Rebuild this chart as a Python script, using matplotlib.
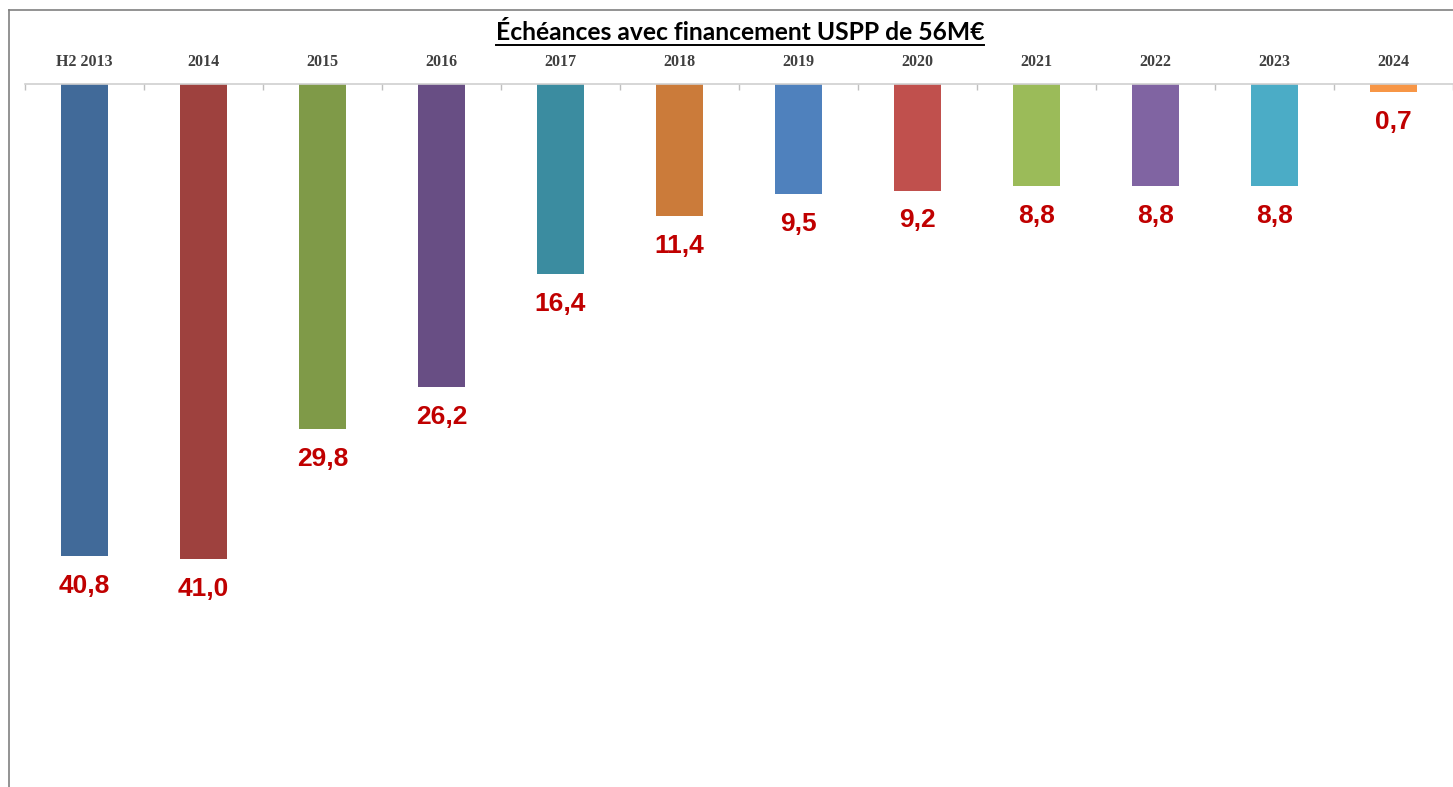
#Échéances avec financement USPP - bar chart hanging from top axis
import matplotlib
matplotlib.use('Agg')
import matplotlib.pyplot as plt
from matplotlib.lines import Line2D

years = ['H2 2013', '2014', '2015', '2016', '2017', '2018',
         '2019', '2020', '2021', '2022', '2023', '2024']
values = [40.8, 41.0, 29.8, 26.2, 16.4, 11.4, 9.5, 9.2, 8.8, 8.8, 8.8, 0.7]
labels = ['40,8', '41,0', '29,8', '26,2', '16,4', '11,4',
          '9,5', '9,2', '8,8', '8,8', '8,8', '0,7']
colors = ['#416A99', '#9E413E', '#7F9A48', '#684E84', '#3B8CA0', '#CB7B3A',
          '#4F81BD', '#C0504D', '#9BBB59', '#8064A2', '#4BACC6', '#F79646']

W, H = 1453, 787
fig = plt.figure(figsize=(W/100, H/100), dpi=100)
ax = fig.add_axes([25/W, 0, 1428/W, 1 - 84/H])

x = range(len(years))
ax.bar(x, [-v for v in values], width=0.4, color=colors)

for i, v in enumerate(values):
    ax.annotate(labels[i], (i, -v), xytext=(0, -21.5), textcoords='offset points',
                ha='center', va='center', color='#C00000', fontsize=19,
                fontweight='bold', family='Liberation Sans')

ax.set_xlim(-0.5, len(years) - 0.5)
ax.set_ylim(-(H - 84)/11.58, 0)

# axis line on top, ticks at category boundaries
for s in ['left', 'right', 'bottom']:
    ax.spines[s].set_visible(False)
ax.spines['top'].set_color('#D0D0D0')
ax.spines['top'].set_linewidth(1.2)
ax.set_yticks([])
ax.xaxis.tick_top()
ax.set_xticks([i - 0.5 for i in range(len(years) + 1)])
ax.set_xticklabels([])
ax.tick_params(axis='x', direction='in', length=4, color='#BFBFBF', width=1)

for i, y in enumerate(years):
    ax.text(i, 1.0 + 14/703, y, transform=ax.get_xaxis_transform(), ha='center',
            va='bottom', fontsize=11.5, fontweight='bold', color='#404040',
            family='Liberation Serif')

# frame of the slide
fig.add_artist(Line2D([9/W, 9/W], [0, 1 - 10/H], color='#808080', lw=1.2))
fig.add_artist(Line2D([9/W, 1], [1 - 10/H, 1 - 10/H], color='#808080', lw=1.2))

t = fig.text(740/W, 1 - 40/H, 'Échéances avec financement USPP de 56M€',
             ha='center', va='baseline', fontsize=17.7, fontweight='bold',
             family='Lato', color='#000000')
fig.canvas.draw()
bb = t.get_window_extent()
uy = 1 - 45/H
fig.add_artist(Line2D([bb.x0/W, bb.x1/W], [uy, uy], color='black', lw=1.4))

fig.savefig('out.png', dpi=100)
